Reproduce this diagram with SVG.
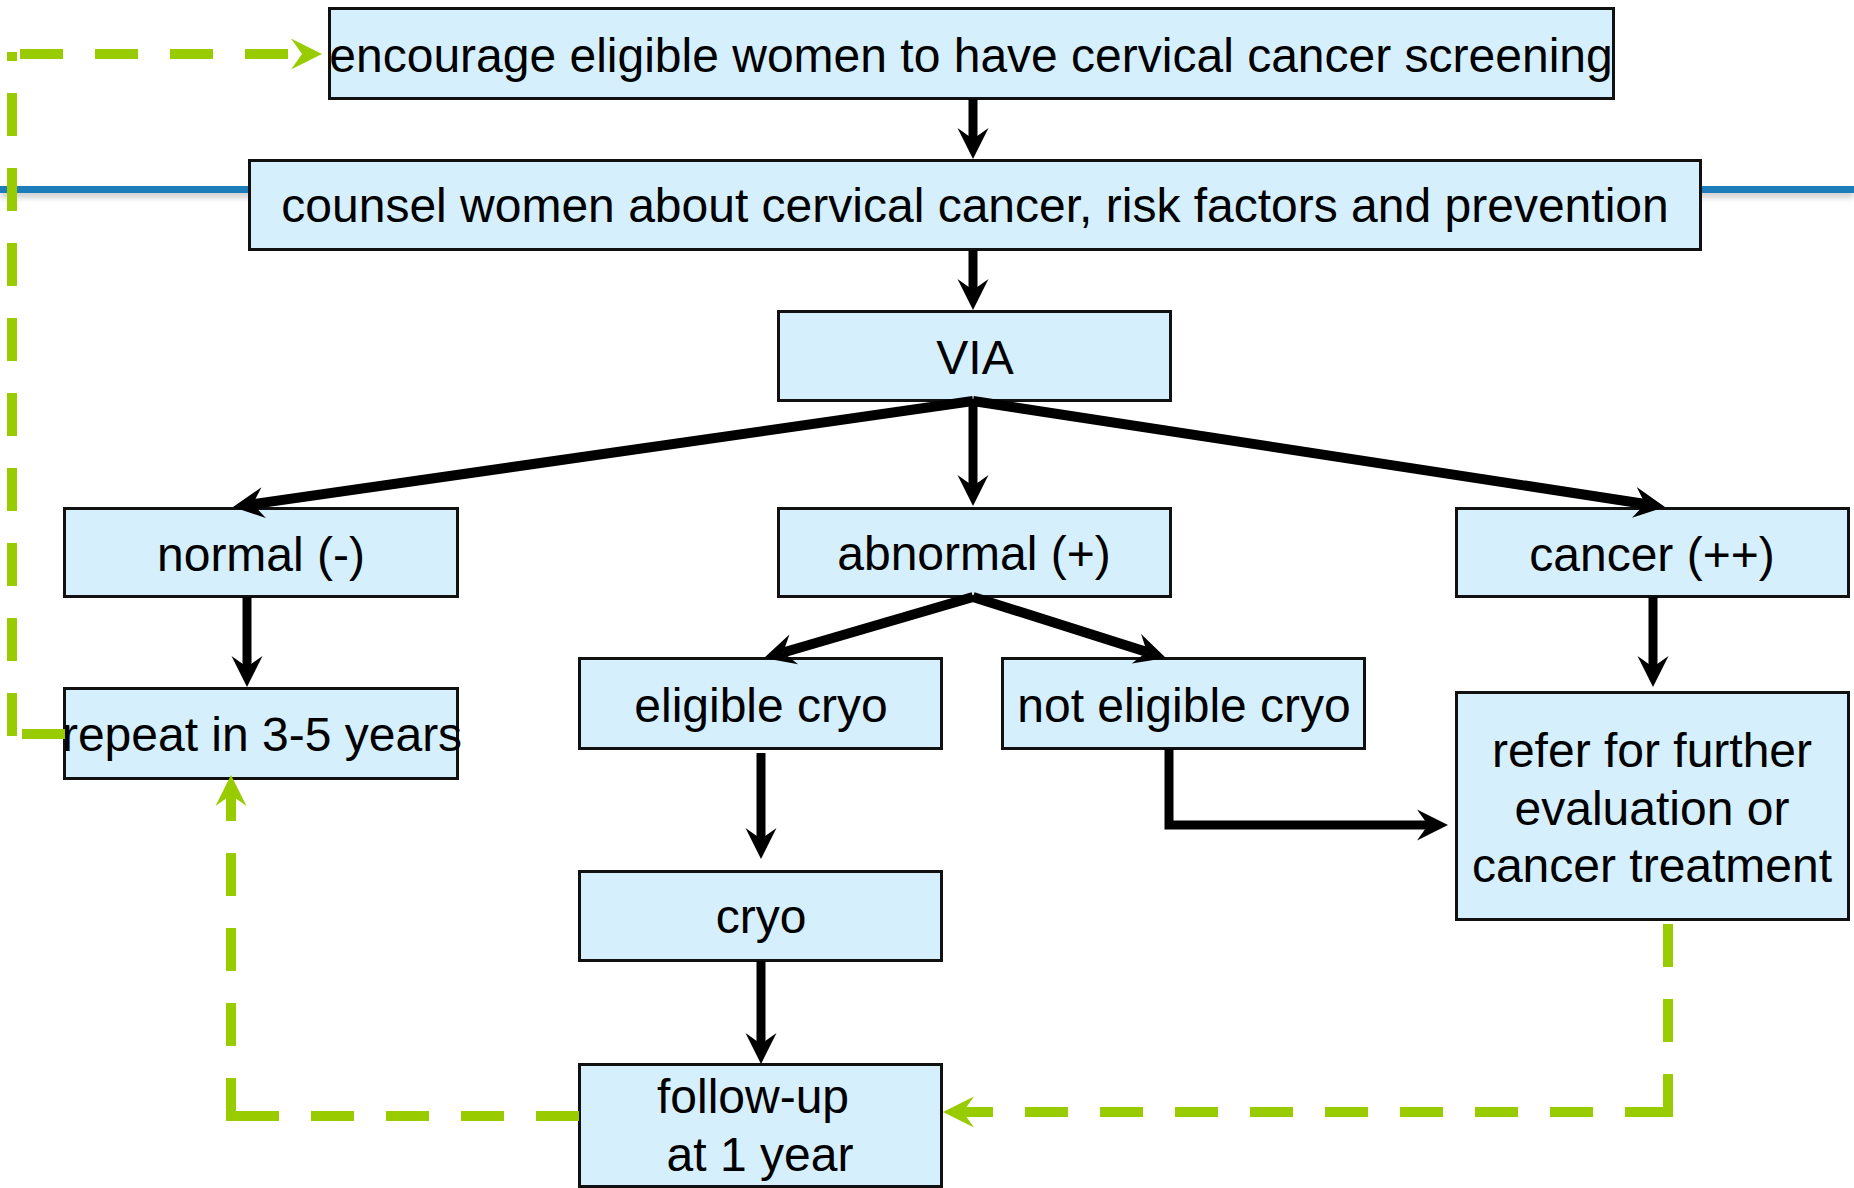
<svg xmlns="http://www.w3.org/2000/svg" width="1854" height="1188" viewBox="0 0 1854 1188">
  <style>
    .box { fill: #D5EFFC; stroke: #111; stroke-width: 3; }
    .lbl { font-family: "Liberation Sans", Arial, sans-serif; font-size: 48px; fill: #000; text-anchor: middle; }
    .flow { fill: none; stroke: #000; stroke-width: 9; stroke-linejoin: miter; }
    .diag { fill: none; stroke: #000; stroke-width: 10; }
    .loop { fill: none; stroke: #99CC00; stroke-width: 10; stroke-dasharray: 43 32; }
  </style>
  <defs>
    <marker id="ah" markerUnits="userSpaceOnUse" viewBox="-12 -17 34 34" markerWidth="34" markerHeight="34" refX="0" refY="0" orient="auto" overflow="visible">
      <path d="M20,0 L-11,-15.5 L0,0 L-11,15.5 Z" fill="#000"/>
    </marker>
    <marker id="ahg" markerUnits="userSpaceOnUse" viewBox="-12 -17 34 34" markerWidth="34" markerHeight="34" refX="0" refY="0" orient="auto" overflow="visible">
      <path d="M20,0 L-11,-15.5 L0,0 L-11,15.5 Z" fill="#99CC00"/>
    </marker>
    <filter id="shade" filterUnits="userSpaceOnUse" x="-20" y="160" width="1900" height="70">
      <feGaussianBlur in="SourceAlpha" stdDeviation="3" result="b"/>
      <feOffset in="b" dy="4" result="o"/>
      <feFlood flood-color="#808080" flood-opacity="0.45"/>
      <feComposite in2="o" operator="in" result="s"/>
      <feMerge>
        <feMergeNode in="s"/>
        <feMergeNode in="SourceGraphic"/>
      </feMerge>
    </filter>
  </defs>

  <rect width="1854" height="1188" fill="#fff"/>

  <!-- horizontal rule behind the counselling step -->
  <rect x="0" y="186" width="1854" height="7" fill="#1F7DBA" filter="url(#shade)"/>

  <g id="node-encourage">
    <rect class="box" x="329.5" y="8.5" width="1284" height="90"/>
    <text class="lbl" x="971" y="72">encourage eligible women to have cervical cancer screening</text>
  </g>
  <g id="node-counsel">
    <rect class="box" x="249.5" y="160.5" width="1451" height="89"/>
    <text class="lbl" x="975" y="222">counsel women about cervical cancer, risk factors and prevention</text>
  </g>
  <g id="node-via">
    <rect class="box" x="778.5" y="311.5" width="392" height="89"/>
    <text class="lbl" x="975" y="374">VIA</text>
  </g>
  <g id="node-normal">
    <rect class="box" x="64.5" y="508.5" width="393" height="88"/>
    <text class="lbl" x="261" y="571">normal (-)</text>
  </g>
  <g id="node-abnormal">
    <rect class="box" x="778.5" y="508.5" width="392" height="88"/>
    <text class="lbl" x="974" y="570">abnormal (+)</text>
  </g>
  <g id="node-cancer">
    <rect class="box" x="1456.5" y="508.5" width="392" height="88"/>
    <text class="lbl" x="1652" y="571">cancer (++)</text>
  </g>
  <g id="node-repeat">
    <rect class="box" x="64.5" y="688.5" width="393" height="90"/>
    <text class="lbl" x="262" y="751">repeat in 3-5 years</text>
  </g>
  <g id="node-eligible">
    <rect class="box" x="579.5" y="658.5" width="362" height="90"/>
    <text class="lbl" x="761" y="722">eligible cryo</text>
  </g>
  <g id="node-not-eligible">
    <rect class="box" x="1002.5" y="658.5" width="362" height="90"/>
    <text class="lbl" x="1184" y="722">not eligible cryo</text>
  </g>
  <g id="node-refer">
    <rect class="box" x="1456.5" y="692.5" width="392" height="227"/>
    <text class="lbl" x="1652" y="767">refer for further</text>
    <text class="lbl" x="1652" y="825">evaluation or</text>
    <text class="lbl" x="1652" y="882">cancer treatment</text>
  </g>
  <g id="node-cryo">
    <rect class="box" x="579.5" y="871.5" width="362" height="89"/>
    <text class="lbl" x="761" y="933">cryo</text>
  </g>
  <g id="node-follow-up">
    <rect class="box" x="579.5" y="1064.5" width="362" height="122"/>
    <text class="lbl" x="753" y="1113">follow-up</text>
    <text class="lbl" x="760" y="1171">at 1 year</text>
  </g>

  <g id="connectors">
    <!-- main pathway -->
    <path class="flow" d="M973,99 V139" marker-end="url(#ah)"/>
    <path class="flow" d="M973,250 V290" marker-end="url(#ah)"/>
    <path class="flow" d="M973,401 V486" marker-end="url(#ah)"/>
    <path class="diag" d="M973,401 L252.8,504.2" marker-end="url(#ah)"/>
    <path class="diag" d="M973,401 L1645.2,504" marker-end="url(#ah)"/>
    <path class="flow" d="M247,597 V667" marker-end="url(#ah)"/>
    <path class="flow" d="M1653,597 V667" marker-end="url(#ah)"/>
    <path class="diag" d="M973,597 L783.2,652.5" marker-end="url(#ah)"/>
    <path class="diag" d="M973,597 L1146.9,652" marker-end="url(#ah)"/>
    <path class="flow" d="M761,753 V839" marker-end="url(#ah)"/>
    <path class="flow" d="M761,961 V1044" marker-end="url(#ah)"/>
    <path class="flow" d="M1169,749 V825 H1428" marker-end="url(#ah)"/>

    <!-- return loops -->
    <path class="loop" d="M65,734 H22" stroke-dasharray="none"/>
    <path class="loop" d="M12,52 V736" stroke-dashoffset="34"/>
    <path class="loop" d="M20,54 H302" marker-end="url(#ahg)"/>

    <path class="loop" d="M579,1116 H236"/>
    <path class="loop" d="M231,1121 V795" marker-end="url(#ahg)"/>

    <path class="loop" d="M1668,924 V1117"/>
    <path class="loop" d="M1668,1112 H963" marker-end="url(#ahg)"/>
  </g>
</svg>
